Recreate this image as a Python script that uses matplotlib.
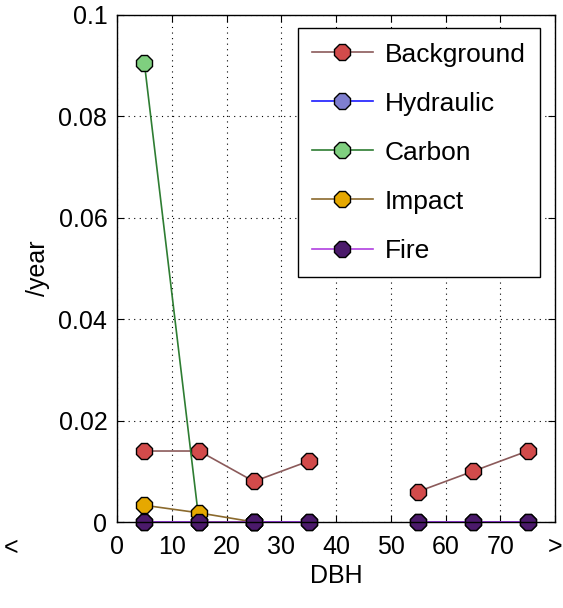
import matplotlib
matplotlib.use('Agg')
import matplotlib.pyplot as plt
import numpy as np

plt.rcParams['font.family'] = ['Liberation Sans', 'DejaVu Sans']

nan = np.nan
dbh = [5, 15, 25, 35, 45, 55, 65, 75]
background = [0.014, 0.014, 0.008, 0.012, nan, 0.006, 0.010, 0.014]
hydraulic = [0, 0, 0, 0, nan, 0, 0, 0]
carbon = [0.0905, 0, 0, nan, nan, nan, nan, nan]
impact = [0.0033, 0.0018, 0, nan, nan, nan, nan, nan]
fire = [0, 0, 0, 0, nan, 0, 0, 0]

series = [
    ('Background', background, '#8b5a5a', '#d24b4b'),
    ('Hydraulic', hydraulic, '#1a1aff', '#7f7fcf'),
    ('Carbon', carbon, '#2e7d32', '#7fcf7f'),
    ('Impact', impact, '#8b6a2d', '#e6a800'),
    ('Fire', fire, '#b040e0', '#4b1a6b'),
]

fs = 18
fig = plt.figure(figsize=(5.63, 6.08), dpi=100)
ax = fig.add_axes([117/563, 1 - 522/608, (555-117)/563, (522-15)/608])

for name, vals, lc, mc in series:
    ax.plot(dbh, vals, color=lc, lw=1.2, marker='8', markersize=12,
            markerfacecolor=mc, markeredgecolor='black', markeredgewidth=1.0,
            label=name, clip_on=False)

ax.set_xlim(0, 80)
ax.set_ylim(0, 0.1)
ax.set_xticks([0, 10, 20, 30, 40, 50, 60, 70, 80])
ax.set_xticklabels(['0', '10', '20', '30', '40', '50', '60', '70', '>'])
ax.set_yticks([0, 0.02, 0.04, 0.06, 0.08, 0.1])
ax.set_yticklabels(['0', '0.02', '0.04', '0.06', '0.08', '0.1'])
ax.tick_params(direction='in', top=True, right=True, labelsize=fs, length=5)
ax.tick_params(axis='x', pad=9)
ax.tick_params(axis='y', pad=7)
ax.grid(True, color='black', linestyle=(0, (1, 4)), linewidth=0.8)
ax.set_axisbelow(True)
for s in ax.spines.values():
    s.set_linewidth(1.0)

ax.set_xlabel('DBH', fontsize=fs, labelpad=4)
ax.set_ylabel('/year', fontsize=fs, labelpad=6)
fig.text(4/563, 1 - 548/608, '<', fontsize=fs, ha='left', va='center')

leg = ax.legend(loc='upper right', fontsize=19, fancybox=False, framealpha=1,
                edgecolor='black', handlelength=2.3, handletextpad=0.45,
                labelspacing=0.95, borderpad=0.55, borderaxespad=0,
                bbox_to_anchor=((540-117)/438, 1 - 13/507))
leg.get_frame().set_linewidth(1.0)

fig.savefig('out.png', dpi=100)
